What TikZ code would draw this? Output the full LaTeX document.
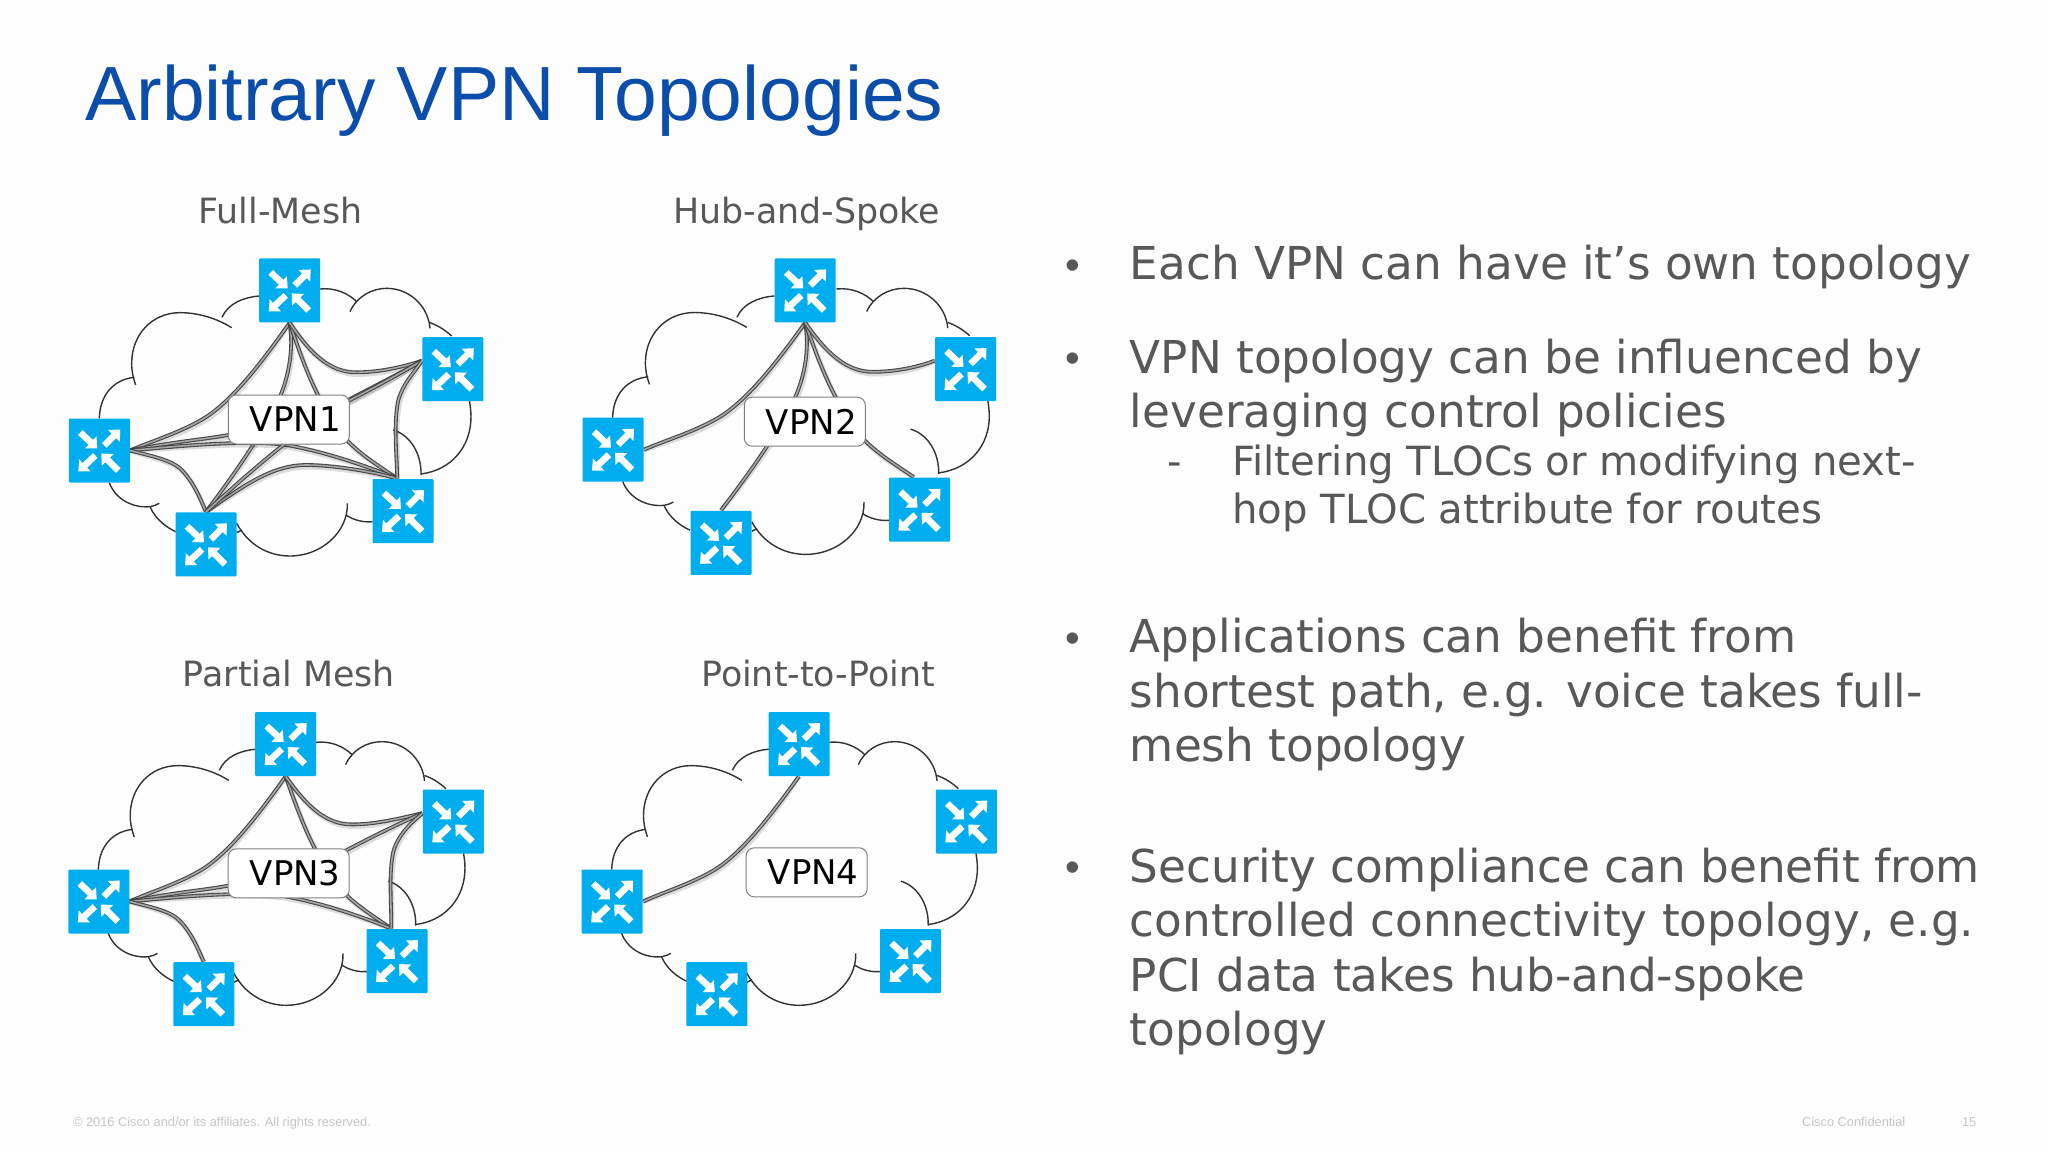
\documentclass[tikz,border=0pt]{standalone}
\usepackage{fontspec}
\setmainfont{Liberation Sans}
\newfontfamily\bodyf{DejaVu Sans}
\usetikzlibrary{arrows.meta,backgrounds}
\definecolor{bgcol}{HTML}{FDFDFE}
\definecolor{titleblue}{HTML}{0A4DAA}
\definecolor{bodygray}{HTML}{58585B}
\definecolor{routerblue}{HTML}{00AEEF}
\definecolor{footgray}{HTML}{C6C6CA}
\tikzset{
  routerbox/.style={rectangle,fill=routerblue,minimum width=30.5pt,minimum height=32pt,inner sep=0pt,rounded corners=0.5pt},
  routerarrow/.style={white,line width=3.3pt,-{Triangle[width=8pt,length=4.5pt]}},
  vpnbox/.style={rectangle,draw=black!50,fill=white,line width=.5pt,rounded corners=4pt,minimum width=60.5pt,minimum height=24.5pt,inner sep=0pt,font=\bodyf\fontsize{17}{19}\selectfont,text=black},
  cloudline/.style={draw=black!80,line width=.7pt},
  linkshadow/.style={draw=black,opacity=.13,line width=2.6pt,shift={(4,6)}},
  vpnlink/.style={draw=black!72,line width=.55pt,double=black!35,double distance=.8pt},
  heading/.style={anchor=base,inner sep=0pt,font=\bodyf\fontsize{17.4}{20}\selectfont,text=bodygray},
  bodytext/.style={anchor=north west,inner sep=0pt,align=left,font=\bodyf\fontsize{22.65}{27.3}\selectfont,text=bodygray},
  subtext/.style={anchor=north west,inner sep=0pt,align=left,font=\bodyf\fontsize{20.1}{23.85}\selectfont,text=bodygray},
  bulletmark/.style={anchor=base,inner sep=0pt,font=\fontsize{21}{24}\selectfont,text=bodygray},
  foottext/.style={anchor=base west,inner sep=0pt,font=\fontsize{6.4}{8}\selectfont,text=footgray},
}
\newcommand\firstline{\rule{0pt}{20pt}}
\newcommand\router[3]{%
  \node[routerbox] (#1) at (#2,#3) {};
  \begin{scope}[shift={(#1.center)}]
    \draw[routerarrow] (-19,-18) -- (-2,-2);
    \draw[routerarrow] (5,-5) -- (21,-21);
    \draw[routerarrow] (-4,5) -- (-21,21);
    \draw[routerarrow] (19,20) -- (2,3);
  \end{scope}}
\newcommand\vlink[1]{\draw[linkshadow] #1; \draw[vpnlink] #1;}
\newcommand\cloudshape{%
  \draw[cloudline] (657,378) .. controls (610,382) and (565,400) .. (546,442);
  \draw[cloudline] (575,473) .. controls (530,445) and (475,428) .. (420,428) .. controls (335,428) and (275,495) .. (275,580) .. controls (275,605) and (280,625) .. (287,645);
  \draw[cloudline] (283,622) .. controls (225,628) and (180,670) .. (178,745);
  \draw[cloudline] (208,938) .. controls (225,985) and (275,1015) .. (330,1010) .. controls (340,1008) and (350,1005) .. (358,1000);
  \draw[cloudline] (330,1010) .. controls (345,1045) and (375,1070) .. (407,1085);
  \draw[cloudline] (590,1088) -- (606,1080);
  \draw[cloudline] (590,1060) .. controls (625,1125) and (685,1158) .. (750,1158) .. controls (845,1158) and (925,1085) .. (922,1000);
  \draw[cloudline] (918,1035) .. controls (940,1050) and (970,1058) .. (998,1055);
  \draw[cloudline] (1060,780) .. controls (1110,795) and (1145,850) .. (1143,915);
  \draw[cloudline] (1143,912) .. controls (1235,900) and (1293,830) .. (1293,740) .. controls (1293,720) and (1290,705) .. (1288,690);
  \draw[cloudline] (1235,498) .. controls (1215,480) and (1195,467) .. (1170,458);
  \draw[cloudline] (1170,475) .. controls (1165,410) and (1110,355) .. (1040,355) .. controls (995,355) and (950,380) .. (930,425);
  \draw[cloudline] (950,395) .. controls (925,370) and (885,352) .. (840,357);}
\newcommand\linkTL{\vlink{(\pn T.south) .. controls (680,555) and (590,680) .. (500,740) .. controls (430,785) and (330,815) .. (\pn L.east)}}
\newcommand\linkTB{\vlink{(\pn T.south) .. controls (762,540) and (745,620) .. (720,680) .. controls (680,770) and (600,890) .. (\pn B.north)}}
\newcommand\linkTQ{\vlink{(\pn T.south) .. controls (790,580) and (830,700) .. (925,815) .. controls (970,860) and (1020,890) .. (\pn Q.100)}}
\newcommand\linkTR{\vlink{(\pn T.south) .. controls (810,550) and (870,608) .. (950,607) .. controls (1020,607) and (1090,590) .. (\pn R.165)}}
\newcommand\linkLR{\vlink{(\pn L.east) .. controls (400,815) and (480,810) .. (565,795) .. controls (700,775) and (830,740) .. (930,687) .. controls (1000,650) and (1080,610) .. (\pn R.165)}}
\newcommand\linkLQ{\vlink{(\pn L.east) .. controls (450,825) and (620,810) .. (740,825) .. controls (850,845) and (960,880) .. (\pn Q.100)}}
\newcommand\linkLB{\vlink{(\pn L.east) .. controls (340,860) and (400,870) .. (430,905) .. controls (465,945) and (480,985) .. (\pn B.north)}}
\newcommand\linkBQ{\vlink{(\pn B.north) .. controls (620,940) and (700,885) .. (800,885) .. controls (880,885) and (1000,905) .. (\pn Q.100)}}
\newcommand\linkBR{\vlink{(\pn B.north) .. controls (580,950) and (660,880) .. (730,825) .. controls (790,780) and (860,725) .. (930,690) .. controls (1000,655) and (1080,610) .. (\pn R.165)}}
\newcommand\linkQR{\vlink{(\pn Q.100) .. controls (1070,850) and (1060,760) .. (1075,690) .. controls (1090,640) and (1120,610) .. (\pn R.165)}}
\begin{document}
\begin{tikzpicture}[x=0.5pt,y=-0.5pt]
\useasboundingbox (0,0) rectangle (2048,1152);
\begin{scope}[on background layer]
  \fill[bgcol] (0,0) rectangle (2048,1152);
\end{scope}
\node[anchor=base west,inner sep=0pt,font=\fontsize{38.4}{44}\selectfont,text=titleblue] (title) at (85,120) {Arbitrary VPN Topologies};

% headings
\node[heading] (h1) at (280.5,223) {Full-Mesh};
\node[heading] (h2) at (806.7,223) {Hub-and-Spoke};
\node[heading] (h3) at (289,686) {Partial Mesh};
\node[heading] (h4) at (818,686) {Point-to-Point};

% VPN1
\router{aT}{289.7}{290.4}\router{aR}{452.8}{369.2}\router{aL}{99.3}{450.5}\router{aQ}{403}{511}\router{aB}{206}{544.3}
\node[vpnbox] (a) at (288.8,419.5) {\hspace*{6.5pt}VPN1};
\begin{scope}[on background layer,shift={(40,170)},xscale=1/3,yscale=1/3]
  \def\pn{a}
  \cloudshape
  \linkTL\linkTB\linkTQ\linkTR\linkLR\linkLQ\linkLB\linkBQ\linkBR\linkQR
\end{scope}

% VPN2
\router{bT}{805.2}{290.4}\router{bR}{965.5}{369}\router{bL}{613}{449.7}\router{bQ}{919.5}{509.7}\router{bB}{721}{542.8}
\node[vpnbox] (b) at (804.8,421.7) {\hspace*{6.5pt}VPN2};
\begin{scope}[on background layer,shift={(552.5,170.7)},xscale=1.0135/3,yscale=0.994/3]
  \def\pn{b}
  \cloudshape
  \linkTL\linkTB\linkTQ\linkTR
\end{scope}

% VPN3
\router{cT}{285.7}{744}\router{cR}{453.3}{821.5}\router{cL}{98.8}{901.5}\router{cQ}{397}{961}\router{cB}{203.8}{994.2}
\node[vpnbox] (c) at (288.7,873.3) {\hspace*{6.5pt}VPN3};
\begin{scope}[on background layer,shift={(39.8,625.1)},xscale=0.9865/3,yscale=0.985/3]
  \def\pn{c}
  \cloudshape
  \linkTL\linkTQ\linkTR\linkLR\linkLQ\linkLB\linkQR
\end{scope}

% VPN4
\router{dT}{799}{744}\router{dR}{966.3}{821.5}\router{dL}{612.2}{901.5}\router{dQ}{910.5}{961}\router{dB}{716.8}{994.2}
\node[vpnbox] (d) at (806.7,872.3) {\hspace*{6.5pt}VPN4};
\begin{scope}[on background layer,shift={(553.3,625.1)},xscale=0.984/3,yscale=0.985/3]
  \def\pn{d}
  \cloudshape
  \linkTL
\end{scope}

% body text
\node[bulletmark] (b1) at (1073,279.3) {•};
\node[bodytext] (t1) at (1129.5,239.3) {\firstline Each VPN can have it’s own topology};
\node[bulletmark] (b2) at (1073,372.7) {•};
\node[bodytext] (t2) at (1129.5,332.7) {\firstline VPN topology can be influenced by\\leveraging control policies};
\node[anchor=base,inner sep=0pt,font=\bodyf\fontsize{20.1}{22}\selectfont,text=bodygray] (s1) at (1175,475) {-};
\node[subtext] (t3) at (1232,435.5) {\firstline Filtering TLOCs or modifying next-\\hop TLOC attribute for routes};
\node[bulletmark] (b3) at (1073,652) {•};
\node[bodytext] (t4) at (1129.5,612) {\firstline Applications can benefit from\\shortest path, e.g. voice takes full-\\mesh topology};
\node[bulletmark] (b4) at (1073,881.7) {•};
\node[bodytext] (t5) at (1129.5,841.7) {\firstline Security compliance can benefit from\\controlled connectivity topology, e.g.\\PCI data takes hub-and-spoke\\topology};

% footer
\node[foottext] (f1) at (72.7,1126.7) {© 2016 Cisco and/or its affiliates. All rights reserved.};
\node[foottext] (f2) at (1801.7,1126.7) {Cisco Confidential};
\node[foottext] (f3) at (1961.7,1126.7) {15};
\end{tikzpicture}
\end{document}
